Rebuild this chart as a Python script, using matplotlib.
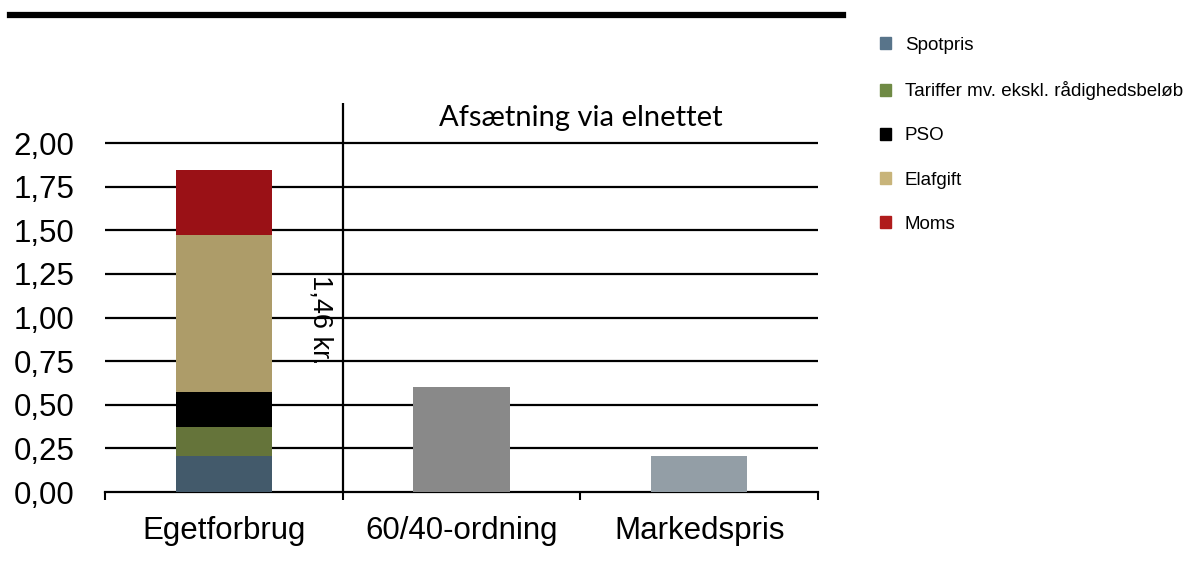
import matplotlib.pyplot as plt
from matplotlib.patches import Patch
from matplotlib.lines import Line2D
import numpy as np

plt.rcParams['font.family'] = ['Liberation Sans', 'DejaVu Sans']

categories = ["Egetforbrug", "60/40-ordning", "Markedspris"]
series = ["Spotpris", "Tariffer mv. ekskl. rådighedsbeløb", "PSO", "Elafgift", "Moms"]
egetforbrug = [0.208, 0.166, 0.201, 0.898, 0.372]
ordning_6040 = 0.603
markedspris = 0.206
yticks = [0.0, 0.25, 0.5, 0.75, 1.0, 1.25, 1.5, 1.75, 2.0]

bar_colors = ["#435a6b", "#65743a", "#000000", "#ad9c69", "#9a1116"]
legend_colors = ["#58748a", "#6f8a45", "#000000", "#c8b47a", "#b01c1c"]

fig = plt.figure(figsize=(11.87, 5.82), dpi=100)
ax = fig.add_axes([105/1187, 1-492/582, (818-105)/1187, (492-103)/582])

x = np.arange(len(categories))
w = 0.404

# stacked bar for egetforbrug
bottom = 0
for val, col in zip(egetforbrug, bar_colors):
    ax.bar(x[0], val, w, bottom=bottom, color=col, zorder=3)
    bottom += val
ax.bar(x[1], ordning_6040, w, color="#898989", zorder=3)
ax.bar(x[2], markedspris, w, color="#939ea6", zorder=3)

ax.set_xlim(-0.5, 2.5)
ax.set_ylim(0, 2.23)
ax.set_yticks(yticks)
ax.set_yticklabels([f"{v:.2f}".replace(".", ",") for v in yticks])
for v in yticks[1:]:
    ax.axhline(v, color="black", lw=1.6, zorder=1)
ax.axvline(0.5, color="black", lw=1.6, zorder=2)

ax.set_xticks([-0.5, 0.5, 1.5, 2.5])
ax.set_xticklabels([])
ax.set_xticks(x, minor=True)
ax.set_xticklabels(categories, minor=True, fontsize=22.5)
ax.tick_params(axis="x", which="major", direction="out", length=6, width=1.5)
ax.tick_params(axis="x", which="minor", length=0, pad=17)
ax.tick_params(axis="y", length=0, pad=22, labelsize=22.5)

for s in ["top", "right", "left"]:
    ax.spines[s].set_visible(False)
ax.spines["bottom"].set_linewidth(1.6)

ax.text(0.405, 0.99, "1,46 kr.", rotation=-90, ha="center", va="center", fontsize=19.5)
ax.text(1.5, 2.145, "Afsætning via elnettet", ha="center", va="center",
        fontsize=21, family=["Lato", "DejaVu Sans"])

# thick line at the top
fig.add_artist(Line2D([10/1187, 843/1187], [1-15/582, 1-15/582], color="black", lw=4.5))

handles = [Patch(color=c) for c in legend_colors]
fig.legend(handles, series, loc="upper left", bbox_to_anchor=(872/1187, 1-29.5/582),
           frameon=False, fontsize=13.5, handlelength=0.6, handleheight=0.6,
           handletextpad=0.75, labelspacing=1.45, borderaxespad=0)

fig.savefig("out.png", dpi=100)
